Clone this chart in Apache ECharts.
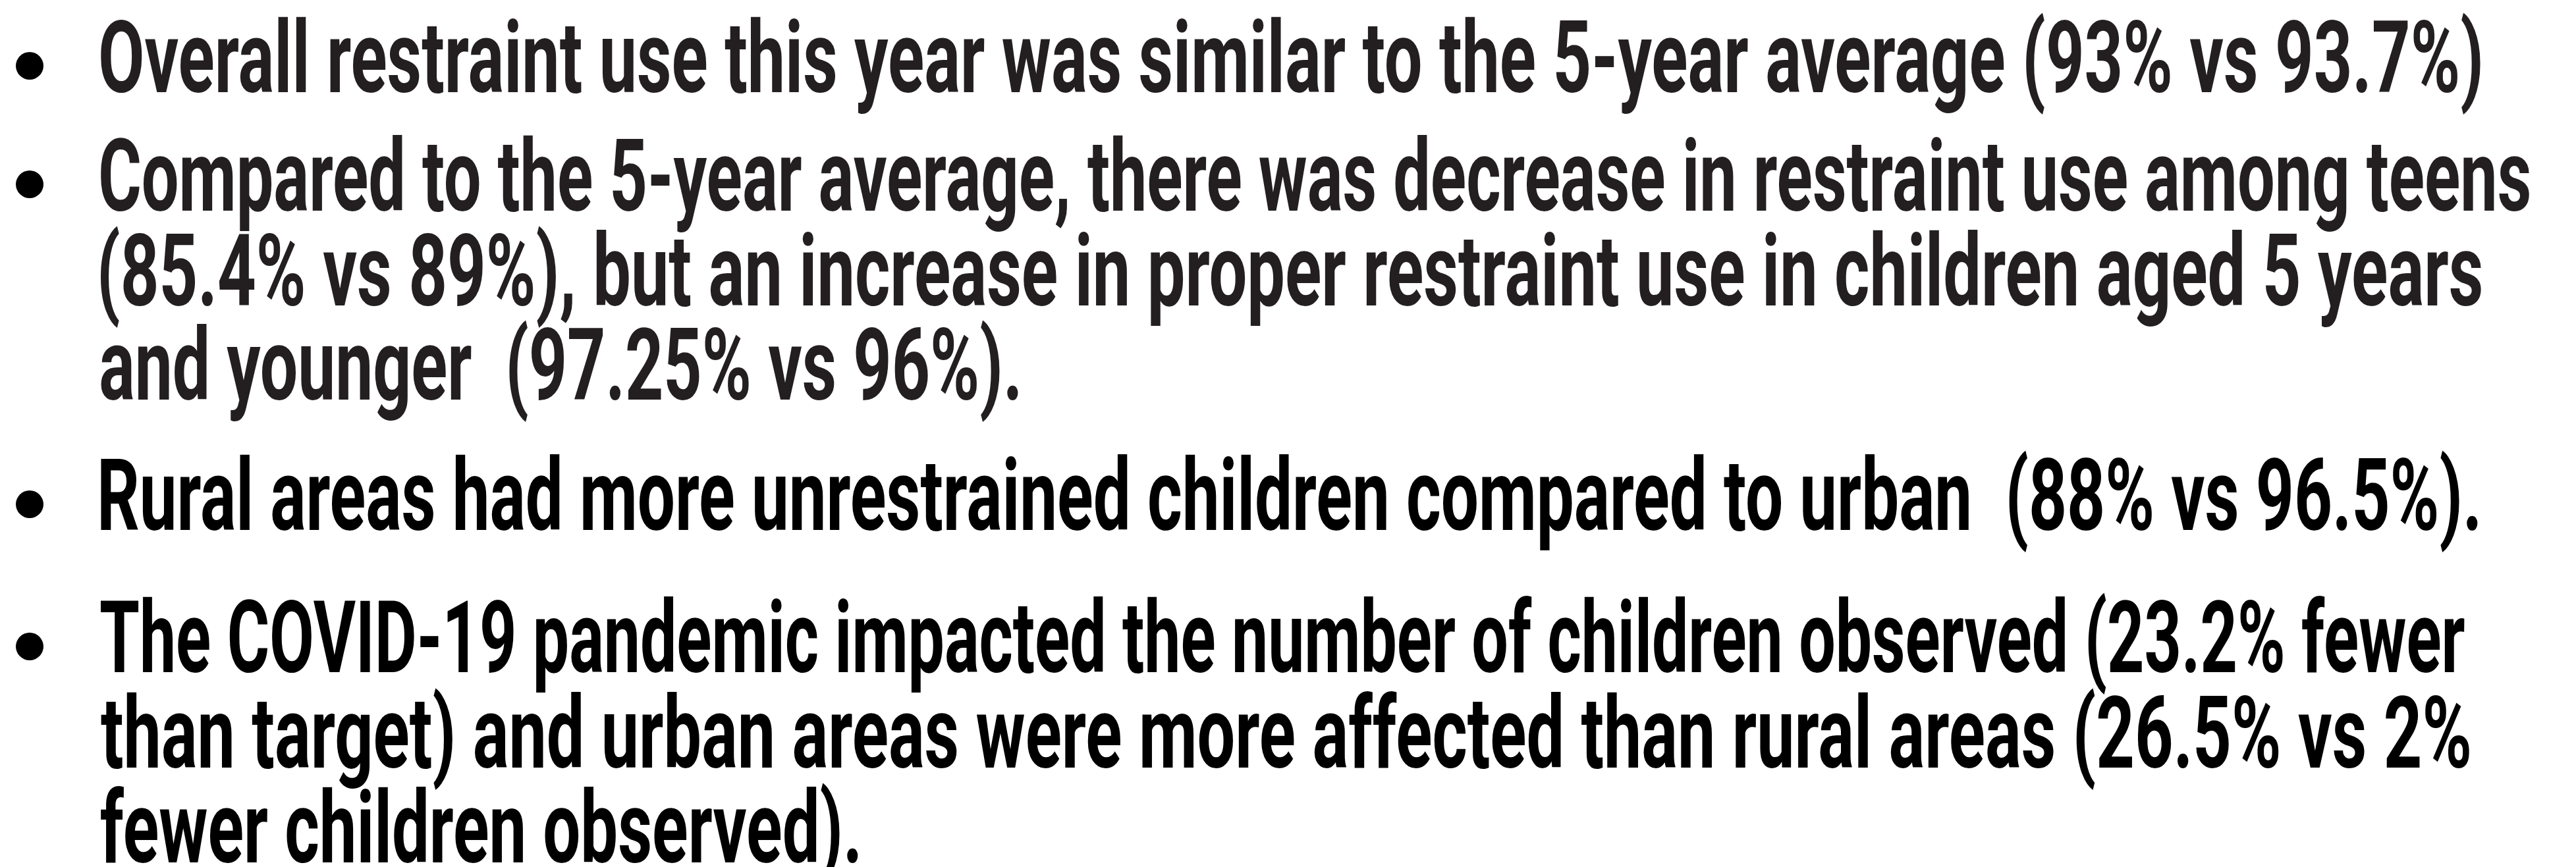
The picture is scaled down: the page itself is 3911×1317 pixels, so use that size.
<!DOCTYPE html>
<html><head><meta charset="utf-8">
<script src="https://cdn.jsdelivr.net/npm/echarts@6/dist/echarts.min.js"></script>
<style>html,body{margin:0;padding:0;background:#fff;overflow:hidden}#c{width:3911px;height:1317px}</style>
</head><body><div id="c"></div>
<script>
// ---- text content (data) ----
const bullet1Lines = ["Overall restraint use this year was similar to the 5-year average (93% vs 93.7%)"];
const bullet2Lines = [
  "Compared to the 5-year average, there was decrease in restraint use among teens",
  "(85.4% vs 89%), but an increase in proper restraint use in children aged 5 years",
  "and younger  (97.25% vs 96%)."
];
const bullet3Lines = ["Rural areas had more unrestrained children compared to urban  (88% vs 96.5%)."];
const bullet4Lines = [
  "The COVID-19 pandemic impacted the number of children observed (23.2% fewer",
  "than target) and urban areas were more affected than rural areas (26.5% vs 2%",
  "fewer children observed)."
];
const bullets = [bullet1Lines, bullet2Lines, bullet3Lines, bullet4Lines];

// ---- layout (positions / styles) ----
const textLeft = 153;
const baselines = [[140], [320, 464, 607], [805], [1021, 1166, 1310]];
const rightEdges = [[3766], [3840, 3767, 1546], [3762], [3742, 3749, 1303]];
const bulletY = [100, 280, 766, 982];
const bulletX = 45, bulletR = 21;
const colors = ['#231f20', '#231f20', '#000000', '#000000'];
const CAP_HEIGHT = 108;
const FONT_SIZE = 150;

const cv = document.createElement('canvas').getContext('2d');
function hasFont(name) {
  const probe = 'abcdefghijklmnopqrstuvwxyz0123456789ABCDEFGHIJ';
  return ['monospace', 'serif'].some(fb => {
    cv.font = 'bold 40px ' + fb;
    const w0 = cv.measureText(probe).width;
    cv.font = 'bold 40px "' + name + '", ' + fb;
    return cv.measureText(probe).width !== w0;
  }) && (function () {
    cv.font = 'bold 40px monospace'; const a = cv.measureText(probe).width;
    cv.font = 'bold 40px "' + name + '", monospace'; const b = cv.measureText(probe).width;
    cv.font = 'bold 40px serif'; const c = cv.measureText(probe).width;
    cv.font = 'bold 40px "' + name + '", serif'; const d = cv.measureText(probe).width;
    return a !== b && c !== d;
  })();
}
const family = hasFont('Liberation Sans Narrow') ? '"Liberation Sans Narrow"' : 'Roboto';
const FONT = 'bold ' + FONT_SIZE + 'px ' + family + ', Roboto, sans-serif';

cv.font = FONT;
cv.textBaseline = 'middle';
const midToBase = cv.measureText('H').actualBoundingBoxDescent;
cv.textBaseline = 'alphabetic';
const capH = cv.measureText('H').actualBoundingBoxAscent;
const sy = CAP_HEIGHT / capH;

const elements = [];
bullets.forEach((lines, bi) => {
  elements.push({
    type: 'circle',
    shape: { cx: bulletX, cy: bulletY[bi], r: bulletR },
    style: { fill: '#000' }
  });
  lines.forEach((line, li) => {
    const m = cv.measureText(line);
    const ink = m.actualBoundingBoxLeft + m.actualBoundingBoxRight;
    const sx = (rightEdges[bi][li] - textLeft) / ink;
    elements.push({
      type: 'text',
      x: textLeft + sx * m.actualBoundingBoxLeft,
      y: baselines[bi][li] - midToBase * sy,
      scaleX: sx,
      scaleY: sy,
      style: {
        text: line, x: 0, y: 0, font: FONT, fill: colors[bi],
        textAlign: 'left', textVerticalAlign: 'middle', verticalAlign: 'middle'
      }
    });
  });
});

const chart = echarts.init(document.getElementById('c'), null, { renderer: 'canvas' });
chart.setOption({ backgroundColor: '#ffffff', animation: false, graphic: { elements } });
</script></body></html>
